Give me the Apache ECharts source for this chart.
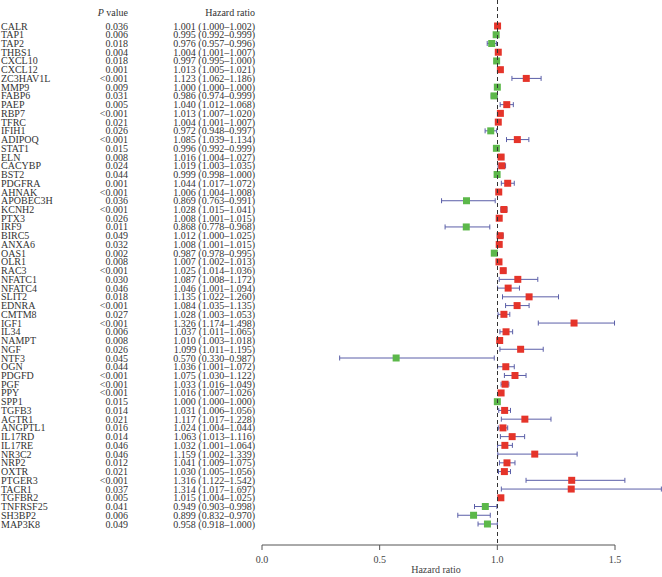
<!DOCTYPE html>
<html>
<head>
<meta charset="utf-8">
<script src="https://cdn.jsdelivr.net/npm/echarts@6/dist/echarts.min.js"></script>
<style>html,body{margin:0;padding:0;background:#fff}#c{width:662px;height:577px}</style>
</head>
<body>
<div id="c"></div>
<script>
const genes = ["CALR","TAP1","TAP2","THBS1","CXCL10","CXCL12","ZC3HAV1L","MMP9","FABP6","PAEP","RBP7","TFRC","IFIH1","ADIPOQ","STAT1","ELN","CACYBP","BST2","PDGFRA","AHNAK","APOBEC3H","KCNH2","PTX3","IRF9","BIRC5","ANXA6","OAS1","OLR1","RAC3","NFATC1","NFATC4","SLIT2","EDNRA","CMTM8","IGF1","IL34","NAMPT","NGF","NTF3","OGN","PDGFD","PGF","PPY","SPP1","TGFB3","AGTR1","ANGPTL1","IL17RD","IL17RE","NR3C2","NRP2","OXTR","PTGER3","TACR1","TGFBR2","TNFRSF25","SH3BP2","MAP3K8"];
const pValues = ["0.036","0.006","0.018","0.004","0.018","0.001","<0.001","0.009","0.031","0.005","<0.001","0.021","0.026","<0.001","0.015","0.008","0.024","0.044","0.001","<0.001","0.036","<0.001","0.026","0.011","0.049","0.032","0.002","0.008","<0.001","0.030","0.046","0.018","<0.001","0.027","<0.001","0.006","0.008","0.026","0.045","0.044","<0.001","<0.001","<0.001","0.015","0.014","0.021","0.016","0.014","0.046","0.046","0.012","0.021","<0.001","0.037","0.005","0.041","0.006","0.049"];
const hr = [1.001,0.995,0.976,1.004,0.997,1.013,1.123,1.000,0.986,1.040,1.013,1.004,0.972,1.085,0.996,1.016,1.019,0.999,1.044,1.006,0.869,1.028,1.008,0.868,1.012,1.008,0.987,1.007,1.025,1.087,1.046,1.135,1.084,1.028,1.326,1.037,1.010,1.099,0.570,1.036,1.075,1.033,1.016,1.000,1.031,1.117,1.024,1.063,1.032,1.159,1.041,1.030,1.316,1.314,1.015,0.949,0.899,0.958];
const lower = [1.000,0.992,0.957,1.001,0.995,1.005,1.062,1.000,0.974,1.012,1.007,1.001,0.948,1.039,0.992,1.004,1.003,0.998,1.017,1.004,0.763,1.015,1.001,0.778,1.000,1.001,0.978,1.002,1.014,1.008,1.001,1.022,1.035,1.003,1.174,1.011,1.003,1.011,0.330,1.001,1.030,1.016,1.007,1.000,1.006,1.017,1.004,1.013,1.001,1.002,1.009,1.005,1.122,1.017,1.004,0.903,0.832,0.918];
const upper = [1.002,0.999,0.996,1.007,1.000,1.021,1.186,1.000,0.999,1.068,1.020,1.007,0.997,1.134,0.999,1.027,1.035,1.000,1.072,1.008,0.991,1.041,1.015,0.968,1.025,1.015,0.995,1.013,1.036,1.172,1.094,1.260,1.135,1.053,1.498,1.065,1.018,1.195,0.987,1.072,1.122,1.049,1.026,1.000,1.056,1.228,1.044,1.116,1.064,1.339,1.075,1.056,1.542,1.697,1.025,0.998,0.970,1.000];
const xTicks = [0, 0.5, 1.0, 1.5];

const FONT = '"Liberation Serif", "Times New Roman", serif';
const TXT = '#333';
const AXIS = '#555';
const RED = '#e5342a';
const GREEN = '#5cb84a';
const BAR = '#5b5fa8';

const chart = echarts.init(document.getElementById('c'), null, {renderer: 'svg'});
const n = genes.length;
// rows: first at y=26, last at y=524, axis line at y=545
const rowPx = (524 - 26) / (n - 1);
const yMin = -26 / rowPx;
const yMax = (n - 1) + (545 - 524) / rowPx;

chart.setOption({
  animation: false,
  backgroundColor: '#fff',
  grid: {left: 262, right: 47, top: 0, bottom: 32, containLabel: false, outerBoundsMode: 'none'},
  xAxis: {
    type: 'value', min: xTicks[0], max: xTicks[xTicks.length - 1], interval: 0.5,
    axisLine: {show: false, onZero: false},
    axisTick: {show: false},
    axisLabel: {color: '#444', fontFamily: FONT, fontSize: 10, margin: 9, formatter: v => v.toFixed(1)},
    splitLine: {show: false}
  },
  yAxis: {type: 'value', inverse: true, min: yMin, max: yMax, show: false},
  graphic: [
    {type: 'text', x: 128, y: 12, style: {text: '{i|P} value', align: 'right', verticalAlign: 'middle', fill: TXT, font: '10px ' + FONT, rich: {i: {fontStyle: 'italic', fontFamily: FONT, fontSize: 10, fill: TXT}}}},
    {type: 'text', x: 255, y: 12, style: {text: 'Hazard ratio', align: 'right', verticalAlign: 'middle', fill: TXT, font: '10px ' + FONT}},
    {type: 'text', x: 436, y: 569, style: {text: 'Hazard ratio', align: 'center', verticalAlign: 'middle', fill: '#444', font: '10px ' + FONT}}
  ],
  series: [
    {
      // axis baseline and tick marks, positioned through the x scale
      type: 'custom', clip: false, silent: true,
      data: xTicks.map(t => [t, yMax]),
      encode: {x: 0, y: 1},
      renderItem: (params, api) => {
        const p = api.coord([api.value(0), api.value(1)]);
        const children = [{type: 'line', shape: {x1: p[0], y1: p[1], x2: p[0], y2: p[1] + 5}, style: {stroke: AXIS, lineWidth: 1}}];
        if (params.dataIndex === 0) {
          const e = api.coord([xTicks[xTicks.length - 1], api.value(1)]);
          children.push({type: 'line', shape: {x1: p[0], y1: p[1], x2: e[0], y2: e[1]}, style: {stroke: AXIS, lineWidth: 1}});
        }
        return {type: 'group', children};
      }
    },
    {
      type: 'custom', clip: false, silent: true,
      data: genes.map((g, i) => [0, i]),
      encode: {x: 0, y: 1},
      renderItem: (params, api) => {
        const i = api.value(1);
        const y = api.coord([0, i])[1];
        const font = '10px ' + FONT;
        return {type: 'group', children: [
          {type: 'text', style: {text: genes[i], x: 1, y: y, align: 'left', verticalAlign: 'middle', fill: TXT, font}},
          {type: 'text', style: {text: pValues[i], x: 128, y: y, align: 'right', verticalAlign: 'middle', fill: TXT, font}},
          {type: 'text', style: {text: hr[i].toFixed(3) + ' (' + lower[i].toFixed(3) + '\u2013' + upper[i].toFixed(3) + ')', x: 255, y: y, align: 'right', verticalAlign: 'middle', fill: TXT, font}}
        ]};
      }
    },
    {
      type: 'custom', clip: false, silent: true,
      data: genes.map((g, i) => [lower[i], upper[i], i]),
      encode: {x: [0, 1], y: 2},
      renderItem: (params, api) => {
        const a = api.coord([api.value(0), api.value(2)]);
        const b = api.coord([api.value(1), api.value(2)]);
        const h = 2.5;
        const st = {stroke: BAR, lineWidth: 1};
        return {type: 'group', children: [
          {type: 'line', shape: {x1: a[0], y1: a[1], x2: b[0], y2: b[1]}, style: st},
          {type: 'line', shape: {x1: a[0], y1: a[1] - h, x2: a[0], y2: a[1] + h}, style: st},
          {type: 'line', shape: {x1: b[0], y1: b[1] - h, x2: b[0], y2: b[1] + h}, style: st}
        ]};
      }
    },
    {
      type: 'scatter', silent: true, symbol: 'rect', symbolSize: 7,
      data: genes.map((g, i) => [hr[i], i]),
      itemStyle: {opacity: 1, color: p => (p.value[0] > 1 ? RED : GREEN)},
      markLine: {
        silent: true, symbol: 'none', label: {show: false},
        lineStyle: {type: [4, 3], color: '#333', width: 1},
        data: [{xAxis: 1}]
      },
      z: 3
    }
  ]
});
</script>
</body>
</html>
